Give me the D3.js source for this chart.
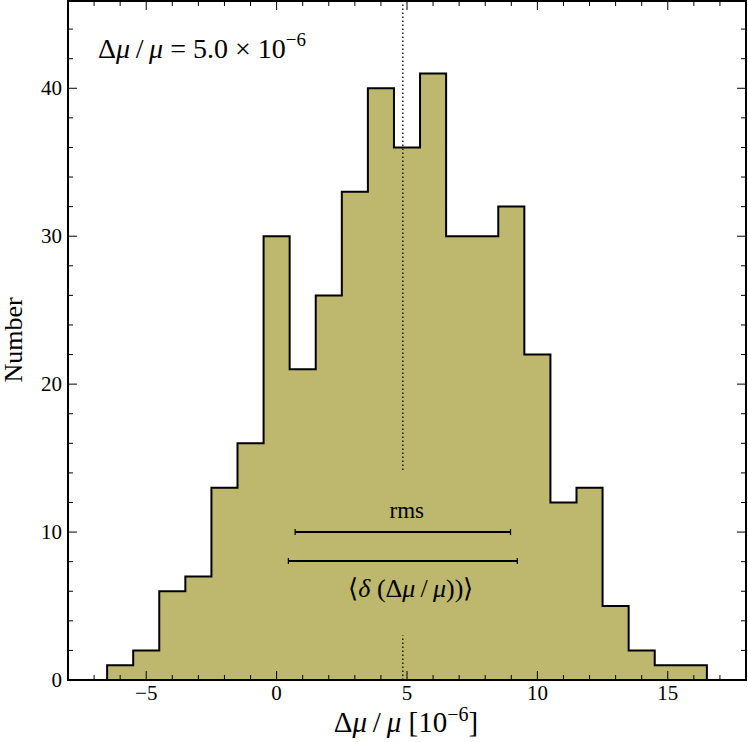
<!DOCTYPE html>
<html>
<head>
<meta charset="utf-8">
<script src="https://cdn.jsdelivr.net/npm/d3@7"></script>
<style>
  body { margin: 0; background: #fff; }
  text { font-family: "Liberation Serif", "Times New Roman", serif; fill: #000; }
</style>
</head>
<body>
<div id="chart"></div>
<script>
// histogram bins (left edges) and counts
const binEdges = [-6.5, -5.5, -4.5, -3.5, -2.5, -1.5, -0.5, 0.5, 1.5, 2.5, 3.5, 4.5,
  5.5, 6.5, 7.5, 8.5, 9.5, 10.5, 11.5, 12.5, 13.5, 14.5, 15.5];
const counts = [1, 2, 6, 7, 13, 16, 30, 21, 26, 33, 40, 36, 41, 30, 30, 32, 22, 12, 13, 5, 2, 1, 1];
const binWidth = 1;

const meanValue = 4.84;
const rmsHalf = 4.13;   // rms bar half width
const rmsLevel = 10;
const deltaHalf = 4.39; // <delta> bar half width
const deltaLevel = 8.05;

const xTicks = [-5, 0, 5, 10, 15];
const yTicks = [0, 10, 20, 30, 40];

const width = 748, height = 742;
const margin = {left: 68, right: 2, top: 1, bottom: 62};

const svg = d3.select("#chart").append("svg")
  .attr("width", width)
  .attr("height", height);

const x = d3.scaleLinear().domain([-8, 18]).range([margin.left, width - margin.right]);
const y = d3.scaleLinear().domain([0, 45.9]).range([height - margin.bottom, margin.top]);

// step outline of the histogram
const pts = [[binEdges[0], 0]];
counts.forEach((c, i) => {
  pts.push([binEdges[i], c]);
  pts.push([binEdges[i] + binWidth, c]);
});
pts.push([binEdges[binEdges.length - 1] + binWidth, 0]);

const line = d3.line().x(d => x(d[0])).y(d => y(d[1]));

svg.append("path")
  .attr("d", line(pts) + "Z")
  .attr("fill", "#bdb86d")
  .attr("stroke", "none");

svg.append("path")
  .attr("d", line(pts))
  .attr("fill", "none")
  .attr("stroke", "#000")
  .attr("stroke-width", 2);

// dotted mean line (interrupted around the labels)
[[14.2, 45.9], [0, 3.0]].forEach(seg => {
  svg.append("line")
    .attr("x1", x(meanValue)).attr("x2", x(meanValue))
    .attr("y1", y(seg[0])).attr("y2", y(seg[1]))
    .attr("stroke", "#000")
    .attr("stroke-width", 1.3)
    .attr("stroke-dasharray", "1.5,2.5");
});

// error-style bars
function hbar(half, level) {
  const g = svg.append("g").attr("stroke", "#000").attr("stroke-width", 2);
  g.append("line")
    .attr("x1", x(meanValue - half)).attr("x2", x(meanValue + half))
    .attr("y1", y(level)).attr("y2", y(level));
  [meanValue - half, meanValue + half].forEach(v => {
    g.append("line")
      .attr("x1", x(v)).attr("x2", x(v))
      .attr("y1", y(level) - 3).attr("y2", y(level) + 3)
      .attr("stroke-width", 1.2);
  });
}
hbar(rmsHalf, rmsLevel);
hbar(deltaHalf, deltaLevel);

svg.append("text")
  .attr("x", x(meanValue) + 4).attr("y", y(rmsLevel) - 14)
  .attr("text-anchor", "middle")
  .style("font-size", "23px")
  .text("rms");

const dl = svg.append("text")
  .attr("x", x(meanValue) + 8).attr("y", y(deltaLevel) + 36)
  .attr("text-anchor", "middle")
  .style("font-size", "26px");
dl.append("tspan").text("⟨");
dl.append("tspan").style("font-style", "italic").text("δ");
dl.append("tspan").text(" (Δ");
dl.append("tspan").style("font-style", "italic").text("μ");
dl.append("tspan").text("\u2009/\u2009");
dl.append("tspan").style("font-style", "italic").text("μ");
dl.append("tspan").text("))⟩");

// frame
svg.append("rect")
  .attr("x", margin.left).attr("y", margin.top)
  .attr("width", width - margin.left - margin.right)
  .attr("height", height - margin.top - margin.bottom)
  .attr("fill", "none")
  .attr("stroke", "#000")
  .attr("stroke-width", 2);

// ticks (inward, on all four sides)
const tickG = svg.append("g").attr("stroke", "#000").attr("stroke-width", 1);
d3.range(-7, 18, 1).forEach(v => {
  const len = v % 5 === 0 ? 9 : 5;
  tickG.append("line").attr("x1", x(v)).attr("x2", x(v))
    .attr("y1", y(0)).attr("y2", y(0) - len);
  tickG.append("line").attr("x1", x(v)).attr("x2", x(v))
    .attr("y1", margin.top).attr("y2", margin.top + len);
});
d3.range(2, 46, 2).forEach(v => {
  const len = v % 10 === 0 ? 9 : 5;
  tickG.append("line").attr("y1", y(v)).attr("y2", y(v))
    .attr("x1", x(-8)).attr("x2", x(-8) + len);
  tickG.append("line").attr("y1", y(v)).attr("y2", y(v))
    .attr("x1", x(18)).attr("x2", x(18) - len);
});

// tick labels
svg.selectAll(".xlab").data(xTicks).enter().append("text")
  .attr("class", "xlab")
  .attr("x", d => x(d)).attr("y", y(0) + 20)
  .attr("text-anchor", "middle")
  .style("font-size", "21px")
  .text(d => d < 0 ? "\u2212" + Math.abs(d) : d);

svg.selectAll(".ylab").data(yTicks).enter().append("text")
  .attr("class", "ylab")
  .attr("x", x(-8) - 6).attr("y", d => y(d) + 7)
  .attr("text-anchor", "end")
  .style("font-size", "21px")
  .text(d => d);

// axis titles
const xt = svg.append("text")
  .attr("x", 406).attr("y", 732)
  .attr("text-anchor", "middle")
  .style("font-size", "29px");
xt.append("tspan").text("Δ");
xt.append("tspan").style("font-style", "italic").text("μ");
xt.append("tspan").text("\u2009/\u2009");
xt.append("tspan").style("font-style", "italic").text("μ");
xt.append("tspan").text(" [10");
xt.append("tspan").attr("dy", -11).style("font-size", "20px").text("\u22126");
xt.append("tspan").attr("dy", 11).text("]");

svg.append("text")
  .attr("transform", "translate(22,340) rotate(-90)")
  .attr("text-anchor", "middle")
  .style("font-size", "26px")
  .text("Number");

// annotation
const ann = svg.append("text")
  .attr("x", 98).attr("y", 58)
  .style("font-size", "28px");
ann.append("tspan").text("Δ");
ann.append("tspan").style("font-style", "italic").text("μ");
ann.append("tspan").text("\u2009/\u2009");
ann.append("tspan").style("font-style", "italic").text("μ");
ann.append("tspan").text(" = 5.0 × 10");
ann.append("tspan").attr("dy", -12).style("font-size", "19px").text("\u22126");
</script>
</body>
</html>
